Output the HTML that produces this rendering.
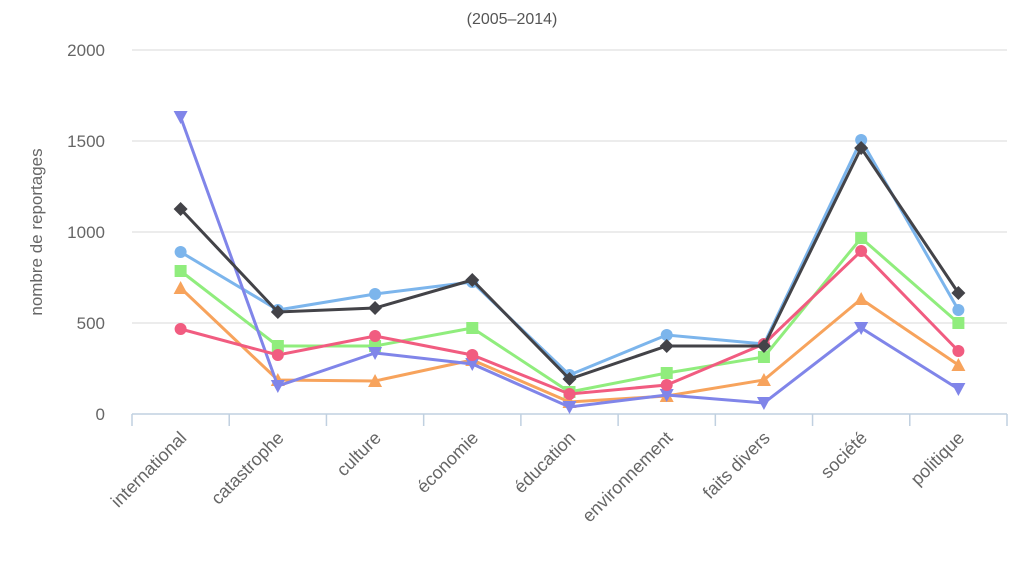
<!DOCTYPE html>
<html><head><meta charset="utf-8"><style>
body{margin:0;background:#fff;width:1024px;height:576px;overflow:hidden;font-family:"Liberation Sans","DejaVu Sans",sans-serif}
</style></head><body>
<svg id="c" width="1024" height="576" xmlns="http://www.w3.org/2000/svg" font-family="Liberation Sans, DejaVu Sans, sans-serif">
<text x="512" y="24" text-anchor="middle" font-size="16" fill="#555">(2005–2014)</text>
<text transform="translate(42,232) rotate(-90)" text-anchor="middle" font-size="17" fill="#666">nombre de reportages</text>
</svg>
<script>
const s=document.getElementById('c');let h='';
const y0=414,k=0.182;
[0,500,1000,1500,2000].forEach(v=>{const y=y0-v*k;
 if(v>0)h+=`<line x1="132" x2="1007" y1="${y}" y2="${y}" stroke="#d8d8d8" stroke-width="1"/>`;
 h+=`<text x="105" y="${y+6}" text-anchor="end" font-size="17" fill="#666">${v}</text>`;});
h+=`<line x1="132" x2="1007" y1="414" y2="414" stroke="#c0d0e0" stroke-width="1.5"/>`;
const w=875/9;
for(let i=0;i<=9;i++){const x=132+i*w;h+=`<line x1="${x}" x2="${x}" y1="414" y2="426" stroke="#c0d0e0" stroke-width="1.5"/>`;}
const cats=['international','catastrophe','culture','économie','éducation','environnement','faits divers','société','politique'];
cats.forEach((c,i)=>{const x=132+(i+0.5)*w+7;h+=`<text transform="translate(${x},439) rotate(-45)" text-anchor="end" font-size="18" fill="#666">${c}</text>`;});
const ser=[
['#f7a35c','tri',[288,380,381,360,402,396,380,299,365]],
['#90ed7d','sq',[271,346,346,328,392,373,357,238,323]],
['#7cb5ec','ci',[252,310,294,282,375,335,344,140,310]],
['#8085e9','td',[117,386,353,364,407,395,403,328,389]],
['#f15c80','ci',[329,355,336,355,394,385,344,251,351]],
['#434348','di',[209,312,308,280,379,346,346,148,293]]];
ser.forEach(([col,m,ys])=>{const pts=ys.map((y,i)=>[132+(i+0.5)*w,y]);
 h+=`<polyline points="${pts.map(p=>p.join(',')).join(' ')}" fill="none" stroke="${col}" stroke-width="3"/>`;
 pts.forEach(([x,y])=>{
  if(m=='ci')h+=`<circle cx="${x}" cy="${y}" r="6" fill="${col}"/>`;
  else if(m=='sq')h+=`<rect x="${x-6}" y="${y-6}" width="12" height="12" fill="${col}"/>`;
  else if(m=='tri')h+=`<polygon points="${x},${y-7} ${x+7},${y+6} ${x-7},${y+6}" fill="${col}"/>`;
  else if(m=='td')h+=`<polygon points="${x-7},${y-6} ${x+7},${y-6} ${x},${y+7}" fill="${col}"/>`;
  else h+=`<polygon points="${x},${y-7} ${x+7},${y} ${x},${y+7} ${x-7},${y}" fill="${col}"/>`;});});
s.innerHTML+=h;
</script>
</body></html>
